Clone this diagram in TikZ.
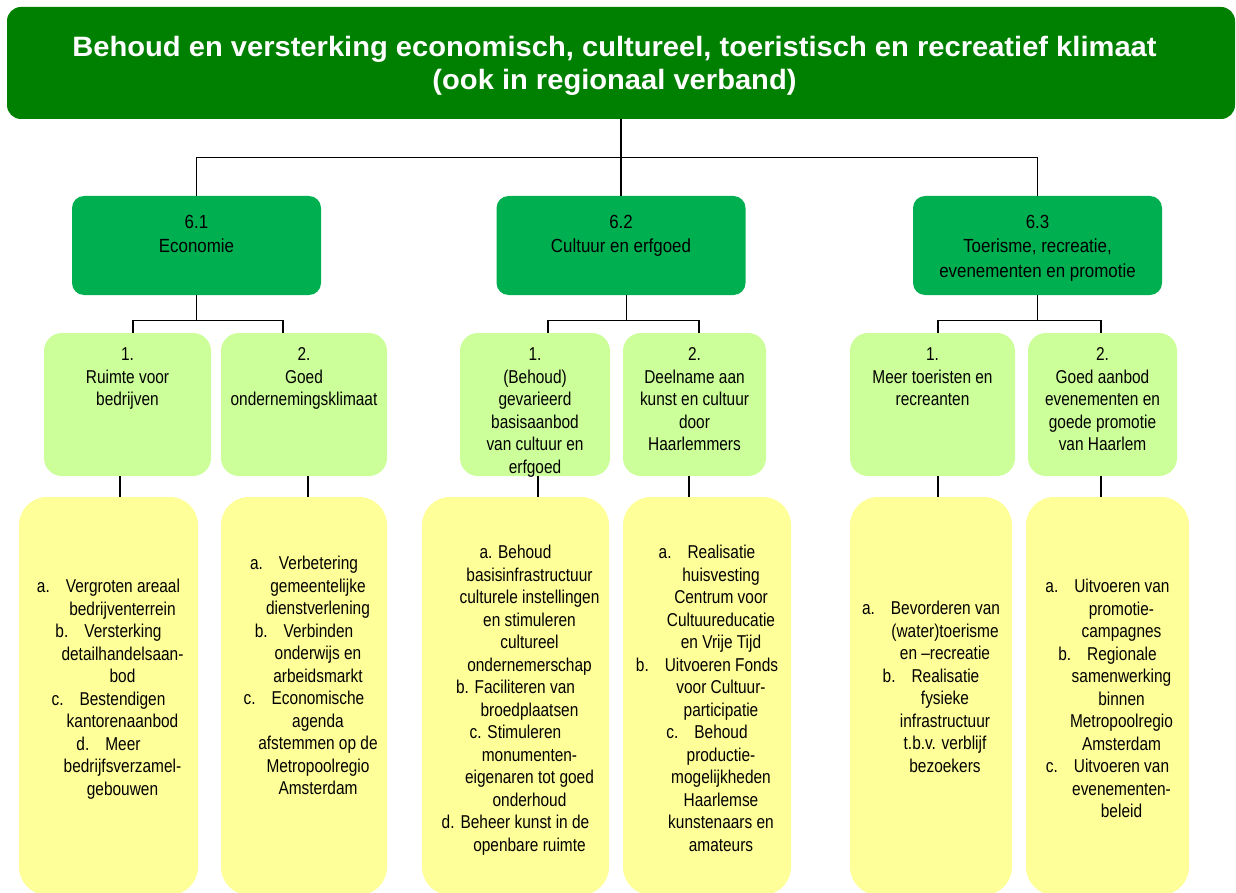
\documentclass[tikz,border=0pt]{standalone}
\usepackage{fontspec}
\setmainfont{Liberation Sans}
\newfontfamily\titlefont[FakeStretch=1.04]{Liberation Sans}
\newfontfamily\catfont[FakeStretch=0.89]{Liberation Sans}
\newfontfamily\narrowfont[FakeStretch=0.83]{Liberation Sans}
\newcommand\myind{\hspace*{28pt}}
\newcommand\mygap{\hspace*{16pt}}
\definecolor{topgreen}{HTML}{008000}
\definecolor{midgreen}{HTML}{00B050}
\definecolor{lightgreen}{HTML}{CCFF99}
\definecolor{paleyellow}{HTML}{FFFF99}
\begin{document}
\begin{tikzpicture}[x=1pt,y=-1pt,
  conn/.style={draw=black, line width=1.2pt},
  topbox/.style={fill=topgreen, rounded corners=14pt, inner sep=0pt,
    minimum width=1228pt, minimum height=112pt},
  toptext/.style={text=white, inner sep=0pt,
    font=\titlefont\bfseries\fontsize{28}{33}\selectfont, align=center},
  catbox/.style={fill=midgreen, rounded corners=12pt, inner sep=0pt,
    minimum width=249pt, minimum height=99pt},
  cattext/.style={font=\catfont\fontsize{19}{24.5}\selectfont, align=center,
    inner sep=0pt, anchor=north},
  goalbox/.style={fill=lightgreen, rounded corners=18pt, inner sep=0pt,
    minimum height=143pt},
  goaltext/.style={font=\narrowfont\fontsize{18.6}{22.5}\selectfont, align=center,
    inner sep=0pt, anchor=north},
  actbox/.style={fill=paleyellow, rounded corners=28pt, inner sep=0pt,
    minimum height=398pt},
  acttext/.style={font=\narrowfont\fontsize{18.6}{22.5}\selectfont, align=center,
    inner sep=0pt, anchor=north}
]
\useasboundingbox (0,0) rectangle (1236,893);
\clip (0,0) rectangle (1236,893);

% top
\node[topbox] (top) at (621,63) {};
\node[toptext] (topt) at (614.5,66) {Behoud en versterking economisch, cultureel, toeristisch en recreatief klimaat\\(ook in regionaal verband)};

% level 2
\node[catbox] (L61) at (196.5,245.5) {};
\node[catbox] (L62) at (621,245.5) {};
\node[catbox] (L63) at (1037.5,245.5) {};
\node[cattext] (L61t) at (196.5,211) {\strut 6.1\\Economie};
\node[cattext] (L62t) at (621,211) {\strut 6.2\\Cultuur en erfgoed};
\node[cattext] (L63t) at (1037.5,211) {\strut 6.3\\Toerisme, recreatie,\\evenementen en promotie};

% level 3
\node[goalbox, minimum width=167pt] (E1) at (127.5,404.5) {};
\node[goalbox, minimum width=166pt] (E2) at (304,404.5) {};
\node[goalbox, minimum width=150pt] (C1) at (535,404.5) {};
\node[goalbox, minimum width=143pt] (C2) at (694.5,404.5) {};
\node[goalbox, minimum width=165pt] (T1) at (932.5,404.5) {};
\node[goalbox, minimum width=149pt] (T2) at (1102.5,404.5) {};
\node[goaltext] (E1t) at (127.5,345) {\strut 1.\\Ruimte voor\\bedrijven};
\node[goaltext] (E2t) at (304,345) {\strut 2.\\Goed\\ondernemingsklimaat};
\node[goaltext] (C1t) at (535,345) {\strut 1.\\(Behoud)\\gevarieerd\\basisaanbod\\van cultuur en\\erfgoed};
\node[goaltext] (C2t) at (694.5,345) {\strut 2.\\Deelname aan\\kunst en cultuur\\door\\Haarlemmers};
\node[goaltext] (T1t) at (932.5,345) {\strut 1.\\Meer toeristen en\\recreanten};
\node[goaltext] (T2t) at (1102.5,345) {\strut 2.\\Goed aanbod\\evenementen en\\goede promotie\\van Haarlem};

% level 4
\node[actbox, minimum width=179pt] (B1) at (108.5,696) {};
\node[actbox, minimum width=166pt] (B2) at (304,696) {};
\node[actbox, minimum width=187pt] (B3) at (515.5,696) {};
\node[actbox, minimum width=168pt] (B4) at (707,696) {};
\node[actbox, minimum width=162pt] (B5) at (931,696) {};
\node[actbox, minimum width=163pt] (B6) at (1107.5,696) {};

\node[acttext] (B1t) at (108.5,577) {\strut a.\mygap Vergroten areaal\\\myind bedrijventerrein\\b.\mygap Versterking\\\myind detailhandelsaan-\\\myind bod\\c.\mygap Bestendigen\\\myind kantorenaanbod\\d.\mygap Meer\\\myind bedrijfsverzamel-\\\myind gebouwen};
\node[acttext] (B2t) at (304,554) {\strut a.\mygap Verbetering\\\myind gemeentelijke\\\myind dienstverlening\\b.\mygap Verbinden\\\myind onderwijs en\\\myind arbeidsmarkt\\c.\mygap Economische\\\myind agenda\\\myind afstemmen op de\\\myind Metropoolregio\\\myind Amsterdam};
\node[acttext] (B3t) at (515.5,543) {\strut a. Behoud\\\myind basisinfrastructuur\\\myind culturele instellingen\\\myind en stimuleren\\\myind cultureel\\\myind ondernemerschap\\b. Faciliteren van\\\myind broedplaatsen\\c. Stimuleren\\\myind monumenten-\\\myind eigenaren tot goed\\\myind onderhoud\\d.\hspace*{6pt}Beheer kunst in de\\\myind openbare ruimte};
\node[acttext] (B4t) at (707,543) {\strut a.\mygap Realisatie\\\myind huisvesting\\\myind Centrum voor\\\myind Cultuureducatie\\\myind en Vrije Tijd\\b.\mygap Uitvoeren Fonds\\\myind voor Cultuur-\\\myind participatie\\c.\mygap Behoud\\\myind productie-\\\myind mogelijkheden\\\myind Haarlemse\\\myind kunstenaars en\\\myind amateurs};
\node[acttext] (B5t) at (931,599) {\strut a.\mygap Bevorderen van\\\myind (water)toerisme\\\myind en –recreatie\\b.\mygap Realisatie\\\myind fysieke\\\myind infrastructuur\\\myind t.b.v. verblijf\\\myind bezoekers};
\node[acttext] (B6t) at (1107.5,577) {\strut a.\mygap Uitvoeren van\\\myind promotie-\\\myind campagnes\\b.\mygap Regionale\\\myind samenwerking\\\myind binnen\\\myind Metropoolregio\\\myind Amsterdam\\c.\mygap Uitvoeren van\\\myind evenementen-\\\myind beleid};

% connectors top -> level 2
\draw[conn] (top.south) -- ++(0,38) coordinate (hub);
\draw[conn] (L61.north) |- (hub) -| (L63.north);
\draw[conn] (hub) -- (L62.north);

% level 2 -> level 3
\path ([xshift=5.5pt]E1.north) coordinate (e1t) ([xshift=-21pt]E2.north) coordinate (e2t)
      ([xshift=13pt]C1.north) coordinate (c1t) ([xshift=4.5pt]C2.north) coordinate (c2t)
      ([xshift=5.5pt]T1.north) coordinate (t1t) ([xshift=-1.5pt]T2.north) coordinate (t2t)
      ([xshift=5.5pt]L62.south) coordinate (l62b);
\draw[conn] (L61.south) -- ++(0,25) coordinate (h61);
\draw[conn] (e1t) |- (h61) -| (e2t);
\draw[conn] (l62b) -- ++(0,25) coordinate (h62);
\draw[conn] (c1t) |- (h62) -| (c2t);
\draw[conn] (L63.south) -- ++(0,25) coordinate (h63);
\draw[conn] (t1t) |- (h63) -| (t2t);

% level 3 -> level 4
\path ([xshift=-7.5pt]E1.south) coordinate (e1b) ([xshift=4pt]E2.south) coordinate (e2b)
      ([xshift=3pt]C1.south) coordinate (c1b) ([xshift=-5.5pt]C2.south) coordinate (c2b)
      ([xshift=5.5pt]T1.south) coordinate (t1b) ([xshift=-1.5pt]T2.south) coordinate (t2b);
\draw[conn] (e1b) -- (e1b |- B1.north);
\draw[conn] (e2b) -- (e2b |- B2.north);
\draw[conn] (c1b) -- (c1b |- B3.north);
\draw[conn] (c2b) -- (c2b |- B4.north);
\draw[conn] (t1b) -- (t1b |- B5.north);
\draw[conn] (t2b) -- (t2b |- B6.north);
\end{tikzpicture}
\end{document}
